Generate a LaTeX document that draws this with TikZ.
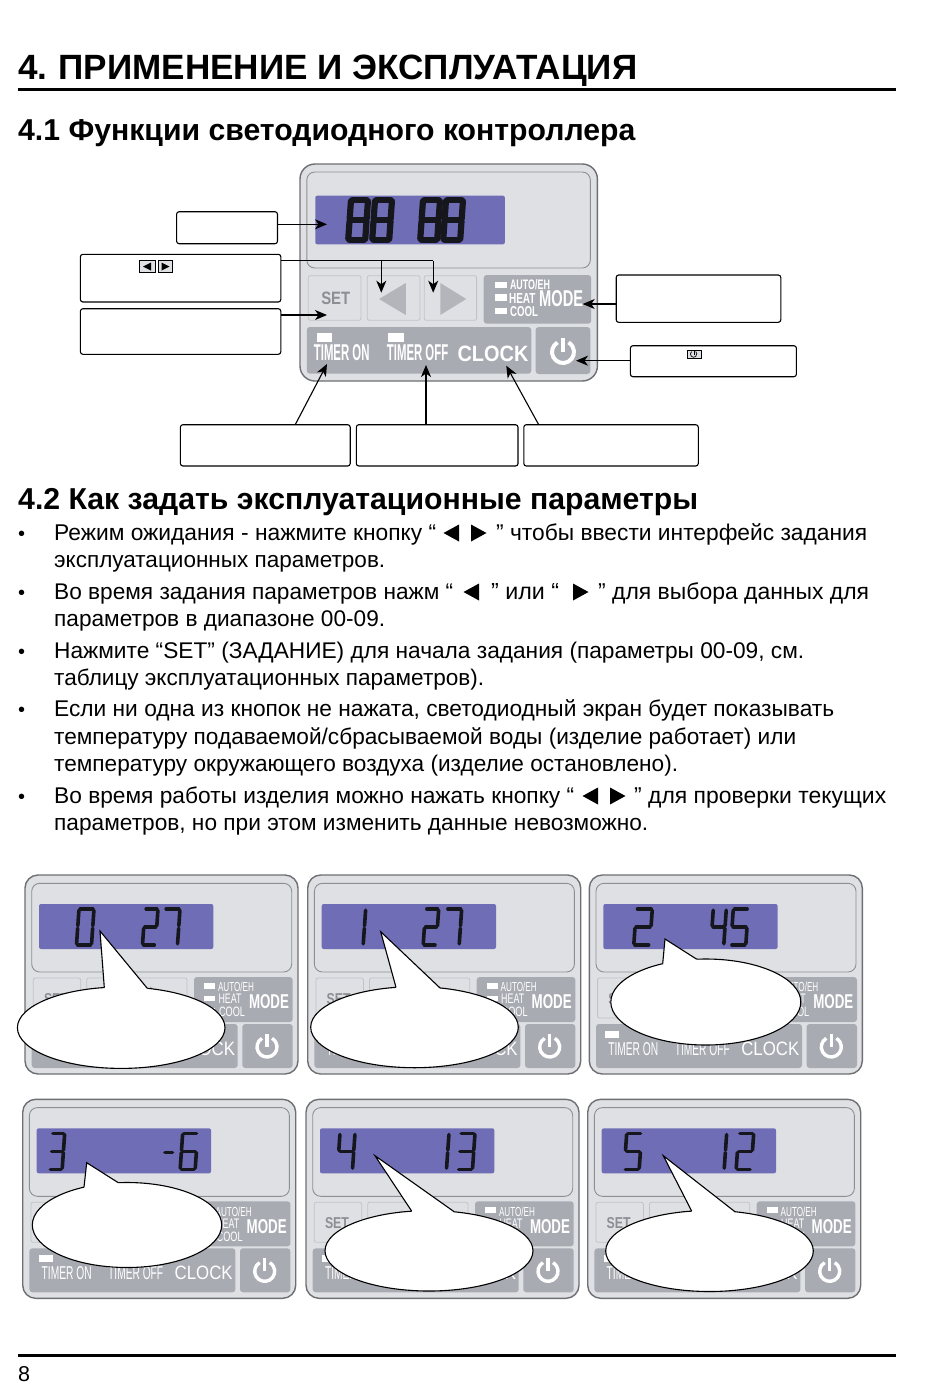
\documentclass[tikz,border=0pt]{standalone}
\usepackage{graphicx}
\usepackage{fontspec}
\setmainfont{Liberation Sans}
\usetikzlibrary{arrows.meta,calc}
\definecolor{panelbg}{HTML}{DFE0E4}
\definecolor{panelln}{HTML}{6E6F72}
\definecolor{screenln}{HTML}{8E8F93}
\definecolor{lcdblue}{HTML}{6F6DB6}
\definecolor{btngrey}{HTML}{A9ABB3}
\definecolor{softln}{HTML}{C2C3C8}
\definecolor{softtri}{HTML}{B4B5BA}
\definecolor{settxt}{HTML}{8D8E93}
\definecolor{inkdark}{HTML}{16161D}
\tikzset{
  x=1pt,y=-1pt,
  pagetxt/.style={inner sep=0pt,anchor=base west,text=black},
  fitlbl/.style={inner sep=0pt,anchor=center},
  calloutbox/.style={draw=black,fill=white,line width=1.1pt,rounded corners=2.5pt,inner sep=0pt},
  pointer/.style={draw=black,line width=1.1pt,-{Stealth[length=12pt,width=10pt,inset=3.5pt]}},
  outerpanel/.style={fill=panelbg,draw=panelln,line width=1.4pt,rounded corners=13pt},
  screenpanel/.style={draw=screenln,line width=.9pt,rounded corners=8pt},
  softbtn/.style={draw=softln,line width=.8pt,rounded corners=2pt},
  greybtn/.style={fill=btngrey,rounded corners=3pt},
  speech/.style={draw=black,line width=1.1pt},
}
% fitted text: name, cx, cy, width, height, colour, text
\newcommand{\fitlabel}[7]{\node[fitlbl,text=#6] (#1) at (#2,#3) {\resizebox{#4pt}{#5pt}{#7}};}
% page text fitted to a width
\newcommand{\pline}[5]{\node[pagetxt] (#1) at (#2,#3) {\resizebox{#4pt}{!}{\fontsize{21.5}{25}\selectfont #5}};}
\newcommand{\pbullet}[2]{\node[pagetxt] (#1) at (18,#2) {\fontsize{20}{24}\selectfont •};}
\newcommand{\triL}[2]{\fill (#1,#2-8.5) -- (#1,#2+8.5) -- (#1-15.5,#2) -- cycle;}
\newcommand{\triR}[2]{\fill (#1,#2-8.5) -- (#1,#2+8.5) -- (#1+15.5,#2) -- cycle;}
% seven segment digit
\newcommand{\sga}{\draw[dseg] (\dg,0) -- (\dw-\dg,0);}
\newcommand{\sgb}{\draw[dseg] (\dw,\dg) -- (\dw,\dh/2-\dg);}
\newcommand{\sgc}{\draw[dseg] (\dw,\dh/2+\dg) -- (\dw,\dh-\dg);}
\newcommand{\sgd}{\draw[dseg] (\dg,\dh) -- (\dw-\dg,\dh);}
\newcommand{\sge}{\draw[dseg] (0,\dh/2+\dg) -- (0,\dh-\dg);}
\newcommand{\sgf}{\draw[dseg] (0,\dg) -- (0,\dh/2-\dg);}
\newcommand{\sgg}{\draw[dseg] (\dg,\dh/2) -- (\dw-\dg,\dh/2);}
\newcommand{\sevseg}[6]{%
  \begin{scope}[shift={(#1,#2)},xslant=.07,dseg/.style={draw=inkdark,line width=#5pt,line cap=round}]
    \def\dw{#3}\def\dh{#4}\def\dg{1.2}
    \foreach \s in {#6}{\csname sg\s\endcsname}
  \end{scope}}
\newcommand{\powericon}[4]{%
  \draw[white,line width=#4pt] (#1-#3*.5,#2-#3*.866) arc[start angle=120,end angle=420,radius=#3 pt];
  \draw[white,line width=#4pt] (#1,#2-#3*1.3) -- (#1,#2);}
% small panel: id, x, y, timer led flag, digit code
\newcommand{\smallpanel}[5]{%
  \begin{scope}[shift={(#2,#3)}]
    \draw[outerpanel] (0,0) rectangle (273,199);
    \draw[screenpanel] (6.7,8.3) rectangle (266.7,97);
    \fill[lcdblue,rounded corners=2pt] (14,29) rectangle (188.3,74);
    #5
    \draw[softbtn] (8.3,103) rectangle (55.7,143);
    \draw[softbtn] (61.7,103) rectangle (162,143);
    \fill[softtri] (96,111) -- (96,135) -- (80,123) -- cycle;
    \fill[softtri] (125,111) -- (125,135) -- (141,123) -- cycle;
    \fitlabel{#1-set}{31}{124}{24}{11}{settxt}{\bfseries SET}
    \fill[greybtn] (169,102) rectangle (267.7,147);
    \fill[greybtn] (6.7,149) rectangle (212.7,193);
    \fill[greybtn] (217.3,149) rectangle (267.7,193);
    \fill[white] (179,108) rectangle (190,114);
    \fill[white] (179,120.5) rectangle (190,126);
    \fill[white] (179,132.5) rectangle (190,137.5);
    \fitlabel{#1-auto}{211}{112}{36}{9.5}{white}{AUTO/EH}
    \fitlabel{#1-heat}{205}{124}{23}{9.5}{white}{HEAT}
    \fitlabel{#1-cool}{207}{137}{26}{9.5}{white}{COOL}
    \fitlabel{#1-mode}{244}{127}{40}{14}{white}{\bfseries MODE}
    \ifnum#4=1 \fill[white] (16,156) rectangle (30,163);\fi
    \fitlabel{#1-ton}{44}{174}{50}{13}{white}{TIMER ON}
    \fitlabel{#1-toff}{113}{174}{55}{13}{white}{TIMER OFF}
    \fitlabel{#1-clock}{181}{174}{58}{13.5}{white}{CLOCK}
    \powericon{242}{172}{10}{3.4}
  \end{scope}}
% speech bubble: cx cy rx ry tipx tipy xL xR
\newcommand{\bubble}[8]{%
  \pgfmathsetmacro\yL{#2-#4*sqrt(1-((#7-#1)/#3)^2)}%
  \pgfmathsetmacro\yR{#2-#4*sqrt(1-((#8-#1)/#3)^2)}%
  \draw[speech,fill=white] (#1,#2) ellipse[x radius=#3pt,y radius=#4pt];
  \fill[white] (#7,\yL) -- (#5,#6) -- (#8,\yR) -- (#1,#2) -- cycle;
  \draw[speech,line join=miter] (#7,\yL) -- (#5,#6) -- (#8,\yR);}
\begin{document}
\begin{tikzpicture}
\useasboundingbox (0,0) rectangle (950,1387);
\fill[white] (0,0) rectangle (950,1387);
% headings
\node[pagetxt] (title) at (18,79) {\resizebox{619pt}{!}{\fontsize{35}{40}\selectfont\bfseries 4.\hspace{-2pt} ПРИМЕНЕНИЕ И ЭКСПЛУАТАЦИЯ}};
\draw[black,line width=2.6pt] (18,89.5) -- (896,89.5);
\node[pagetxt] (h41) at (18,140) {\resizebox{617pt}{!}{\fontsize{28}{32}\selectfont\bfseries 4.1 Функции светодиодного контроллера}};
\node[pagetxt] (h42) at (18,509) {\resizebox{680pt}{!}{\fontsize{28}{32}\selectfont\bfseries 4.2 Как задать эксплуатационные параметры}};
% main panel
\draw[outerpanel,rounded corners=15pt] (300,164) rectangle (597.4,381);
\draw[screenpanel] (306.8,172) rectangle (590.3,268);
\fill[lcdblue,rounded corners=2pt] (315.3,195.7) rectangle (504.9,244.3);
\sevseg{351}{200}{17}{40}{6.2}{a,b,c,d,e,f,g}
\sevseg{375}{200}{17}{40}{6.2}{a,b,c,d,e,f,g}
\sevseg{423}{200}{17}{40}{6.2}{a,b,c,d,e,f,g}
\sevseg{446}{200}{17}{40}{6.2}{a,b,c,d,e,f,g}
\draw[softbtn] (308.2,275.7) rectangle (361,320.3);
\fitlabel{setbig}{335.8}{298}{29}{12.5}{settxt}{\bfseries SET}
\draw[softbtn] (367.2,275.7) rectangle (420,320.3);
\draw[softbtn] (424.2,275.7) rectangle (476.6,320.3);
\fill[softtri] (405.8,283) -- (405.8,315) -- (379,299) -- cycle;
\fill[softtri] (440.3,283) -- (440.3,315) -- (466.2,299) -- cycle;
\fill[greybtn] (483.7,275) rectangle (591.2,323.7);
\fill[greybtn] (306.8,327) rectangle (531.3,373.7);
\fill[greybtn] (535.6,327) rectangle (590.3,374);
\fill[white] (494.5,281.7) rectangle (507.3,288);
\fill[white] (494.5,294) rectangle (507.3,301);
\fill[white] (494.5,307.7) rectangle (507.3,314);
\fitlabel{autobig}{530}{285}{40}{10}{white}{\bfseries AUTO/EH}
\fitlabel{heatbig}{522.3}{298}{26.5}{10}{white}{\bfseries HEAT}
\fitlabel{coolbig}{524}{312}{28}{10}{white}{\bfseries COOL}
\fitlabel{modebig}{561.2}{299}{44}{16}{white}{\bfseries MODE}
\fill[white] (316.7,332.7) rectangle (331.8,341.7);
\fill[white] (388.4,332.7) rectangle (404,341.7);
\fitlabel{tonbig}{341.7}{353}{55.6}{16}{white}{\bfseries TIMER ON}
\fitlabel{toffbig}{417.6}{353}{61.3}{16}{white}{\bfseries TIMER OFF}
\fitlabel{clockbig}{493}{354}{70.8}{15.5}{white}{\bfseries CLOCK}
\powericon{563}{352}{11}{4}
% callout boxes
\node[calloutbox,minimum width=100.9pt,minimum height=32pt] (boxA) at (227.05,227.7) {};
\node[calloutbox,minimum width=200.4pt,minimum height=47.7pt] (boxB) at (180.6,278.15) {};
\node[calloutbox,minimum width=200.4pt,minimum height=45.6pt] (boxC) at (180.6,331.5) {};
\node[calloutbox,minimum width=164.6pt,minimum height=47.3pt] (boxD) at (698.5,298.65) {};
\node[calloutbox,minimum width=166pt,minimum height=31pt] (boxE) at (713.4,361.2) {};
\node[calloutbox,minimum width=169.8pt,minimum height=41.3pt] (boxF) at (265.3,445.35) {};
\node[calloutbox,minimum width=161.7pt,minimum height=41.3pt] (boxG) at (437.15,445.35) {};
\node[calloutbox,minimum width=174.5pt,minimum height=41.3pt] (boxH) at (611.05,445.35) {};
% icons inside boxes
\draw[black,line width=.7pt,fill=panelbg] (139.8,260.7) rectangle (154.9,272.3);
\draw[black,line width=.7pt,fill=panelbg] (158.2,260.7) rectangle (172.4,272.3);
\fill[black] (151,262.5) -- (151,270.5) -- (143,266.5) -- cycle;
\fill[black] (161.5,262.5) -- (161.5,270.5) -- (169.5,266.5) -- cycle;
\draw[black,line width=.7pt,fill=panelbg] (687,350) rectangle (701,358.7);
\draw[black,line width=.7pt] (691.6,351.6) arc[start angle=130,end angle=410,radius=3.2pt];
\draw[black,line width=.7pt] (694,350.8) -- (694,355);
% connectors
\coordinate (tA) at (327,224.3);
\coordinate (tL) at (381.3,292.7);
\coordinate (tR) at (433.2,292.7);
\coordinate (jB) at (433.2,260.7);
\coordinate (tC) at (327,315);
\coordinate (tD) at (582.7,304);
\coordinate (tE) at (576,360.7);
\coordinate (tF) at (327,364);
\coordinate (sF) at (295.5,0);
\coordinate (tG) at (426,365);
\coordinate (tH) at (506.3,365.7);
\coordinate (sH) at (538.4,0);
\draw[pointer] (boxA.east |- tA) -- (tA);
\draw[draw=black,line width=1.1pt] (boxB.east |- jB) -- (jB);
\draw[pointer] (tL |- jB) -- (tL);
\draw[pointer] (jB) -- (tR);
\draw[pointer] (boxC.east |- tC) -- (tC);
\draw[pointer] (boxD.west |- tD) -- (tD);
\draw[pointer] (boxE.west |- tE) -- (tE);
\draw[pointer] (boxF.north -| sF) -- (tF);
\draw[pointer] (boxG.north -| tG) -- (tG);
\draw[pointer] (boxH.north -| sH) -- (tH);
% body text
\pbullet{b1}{540}
\pline{l1a}{54}{540}{382}{Режим ожидания - нажмите кнопку “}
\triL{459}{533}\triR{471}{533}
\pline{l1b}{496}{540}{371}{” чтобы ввести интерфейс задания}
\pline{l2}{54}{567.5}{331}{эксплуатационных параметров.}
\pbullet{b2}{599}
\pline{l3a}{54}{599}{399}{Во время задания параметров нажм “}
\triL{479}{592}
\pline{l3b}{491}{599}{68}{” или “}
\triR{573}{592}
\pline{l3c}{598}{599}{271}{” для выбора данных для}
\pline{l4}{54}{626}{331}{параметров в диапазоне 00-09.}
\pbullet{b3}{658}
\pline{l5}{54}{658}{750}{Нажмите “SET” (ЗАДАНИЕ) для начала задания (параметры 00-09, см.}
\pline{l6}{54}{685}{430}{таблицу эксплуатационных параметров).}
\pbullet{b4}{716}
\pline{l7}{54}{716}{780}{Если ни одна из кнопок не нажата, светодиодный экран будет показывать}
\pline{l8}{54}{744}{742}{температуру подаваемой/сбрасываемой воды (изделие работает) или}
\pline{l9}{54}{771}{624}{температуру окружающего воздуха (изделие остановлено).}
\pbullet{b5}{803}
\pline{l10a}{54}{803}{520}{Во время работы изделия можно нажать кнопку “}
\triL{598}{796}\triR{610}{796}
\pline{l10b}{634}{803}{252}{” для проверки текущих}
\pline{l11}{54}{830}{594}{параметров, но при этом изменить данные невозможно.}
% small panels
\smallpanel{p1}{25}{875}{0}{%
  \sevseg{54}{34}{15}{36}{3.6}{a,b,c,d,e,f}
  \sevseg{120}{34}{13}{36}{3.6}{a,b,d,e,g}
  \sevseg{140}{34}{15}{36}{3.6}{a,b,c}}
\smallpanel{p2}{307.7}{875}{0}{%
  \sevseg{58}{34}{15}{36}{3.6}{e,f}
  \sevseg{118}{34}{13}{36}{3.6}{a,b,d,e,g}
  \sevseg{139}{34}{15}{36}{3.6}{a,b,c}}
\smallpanel{p3}{589.3}{875}{1}{%
  \sevseg{47}{34}{16}{36}{3.6}{a,b,d,e,g}
  \sevseg{124}{34}{13}{36}{3.6}{b,c,f,g}
  \sevseg{144}{34}{15}{36}{3.6}{a,c,d,f,g}}
\smallpanel{p4}{22.7}{1099.3}{1}{%
  \sevseg{29}{34}{13}{36}{3.6}{a,b,c,d,g}
  \sevseg{141}{53}{10}{0}{3.6}{a}
  \sevseg{160}{34}{15}{36}{3.6}{a,c,d,e,f,g}}
\smallpanel{p5}{306}{1099.3}{1}{%
  \sevseg{34}{34}{15}{36}{3.6}{b,c,f,g}
  \sevseg{143}{34}{4}{36}{3.6}{e,f}
  \sevseg{154}{34}{15}{36}{3.6}{a,b,c,d,g}}
\smallpanel{p6}{587.7}{1099.3}{1}{%
  \sevseg{39}{34}{15}{36}{3.6}{a,c,d,f,g}
  \sevseg{139}{34}{4}{36}{3.6}{e,f}
  \sevseg{151}{34}{15}{36}{3.6}{a,b,d,e,g}}
\bubble{121.2}{1027.7}{103.8}{40.7}{100}{931}{104.3}{147.3}
\bubble{414.5}{1027.2}{103.8}{40.5}{380.7}{931.7}{396}{440}
\bubble{705.8}{1002}{95}{43}{665}{939}{662.7}{696.7}
\bubble{127}{1225}{94.7}{42.5}{86.7}{1162.7}{84}{118.3}
\bubble{429}{1250.8}{104}{40.2}{375}{1155.7}{411.7}{454.3}
\bubble{709.5}{1251}{103.8}{40.5}{663.3}{1155.7}{691.7}{735}
% footer
\draw[black,line width=2.4pt] (18,1355.5) -- (896,1355.5);
\node[pagetxt] (pageno) at (18,1381) {\fontsize{21.5}{25}\selectfont 8};
\end{tikzpicture}
\end{document}
